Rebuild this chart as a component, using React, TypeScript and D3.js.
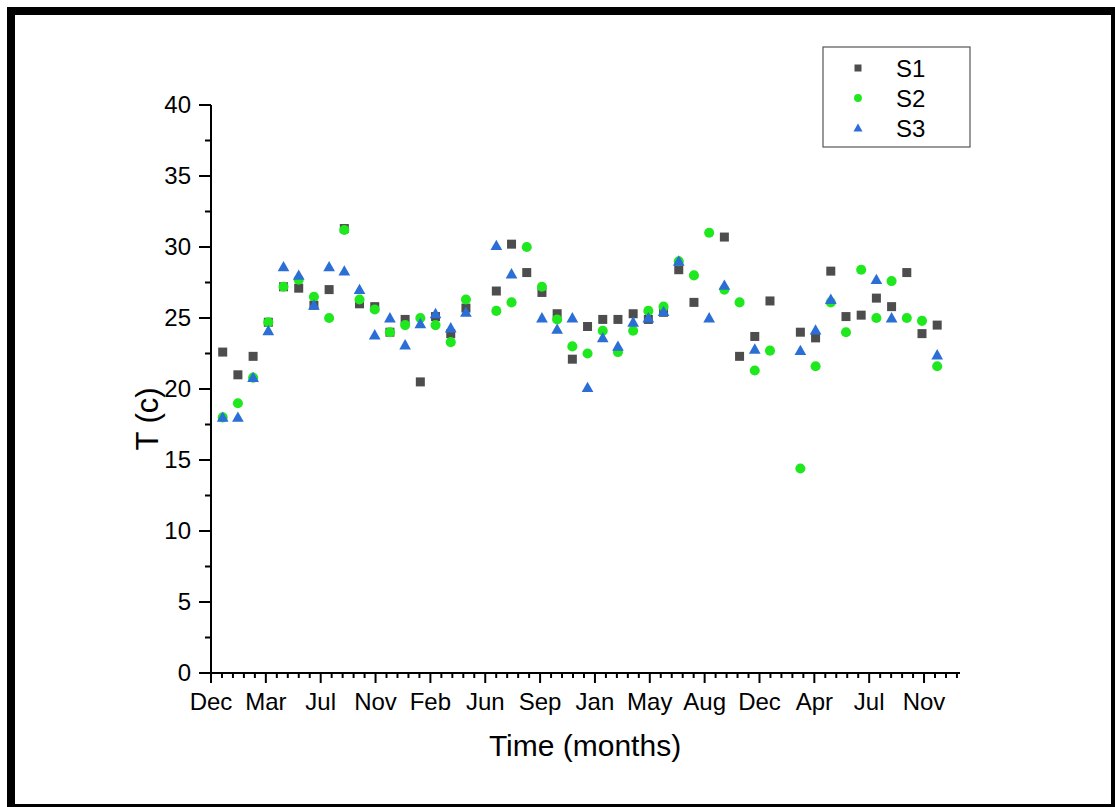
import React from "react";
import * as d3 from "d3";

// Month index 0 = Dec (first year) ... 47 = Nov (fourth year after)
const s1: (number | null)[] = [
  22.6, 21.0, 22.3, 24.7, 27.2, 27.1, 25.9, 27.0, 31.3, 26.0, 25.8, 24.0,
  24.9, 20.5, 25.1, 23.9, 25.7, null, 26.9, 30.2, 28.2, 26.8, 25.3, 22.1,
  24.4, 24.9, 24.9, 25.3, 24.9, 25.4, 28.4, 26.1, null, 30.7, 22.3, 23.7,
  26.2, null, 24.0, 23.6, 28.3, 25.1, 25.2, 26.4, 25.8, 28.2, 23.9, 24.5,
];
const s2: (number | null)[] = [
  18.0, 19.0, 20.8, 24.7, 27.2, 27.7, 26.5, 25.0, 31.2, 26.3, 25.6, 24.0,
  24.5, 25.0, 24.5, 23.3, 26.3, null, 25.5, 26.1, 30.0, 27.2, 24.9, 23.0,
  22.5, 24.1, 22.6, 24.1, 25.5, 25.8, 29.0, 28.0, 31.0, 27.0, 26.1, 21.3,
  22.7, null, 14.4, 21.6, 26.1, 24.0, 28.4, 25.0, 27.6, 25.0, 24.8, 21.6,
];
const s3: (number | null)[] = [
  18.0, 18.0, 20.8, 24.1, 28.6, 28.0, 25.9, 28.6, 28.3, 27.0, 23.8, 25.0,
  23.1, 24.6, 25.3, 24.3, 25.4, null, 30.1, 28.1, null, 25.0, 24.2, 25.0,
  20.1, 23.6, 23.0, 24.7, 25.0, 25.45, 29.0, null, 25.0, 27.3, null, 22.8,
  null, null, 22.7, 24.15, 26.3, null, null, 27.7, 25.0, null, null, 22.4,
];

const xTickLabels = ["Dec", "Mar", "Jul", "Nov", "Feb", "Jun", "Sep", "Jan", "May", "Aug", "Dec", "Apr", "Jul", "Nov"];
const xTickStart = -0.77; // month index of first major tick
const xTickStep = 3.608; // months between major ticks (~110 days)
const xDomain = [-0.77, 48.5];
const yDomain = [0, 40];
const yTicks = [0, 5, 10, 15, 20, 25, 30, 35, 40];

const seriesNames = ["S1", "S2", "S3"];
const colors = { S1: "#4d4d4d", S2: "#1fe81f", S3: "#2b6ed6" };

const FONT = "'Liberation Sans', Arial, sans-serif";

function Marker({ kind, x, y, s }: { kind: string; x: number; y: number; s: number }) {
  if (kind === "S1") {
    return <rect x={x - s / 2} y={y - s / 2} width={s} height={s} fill={colors.S1} />;
  }
  if (kind === "S2") {
    return <circle cx={x} cy={y} r={s * 0.56} fill={colors.S2} />;
  }
  const w = s * 1.3;
  const h = s * 1.1;
  return (
    <path
      d={`M${x},${y - h * 0.6} L${x + w / 2},${y + h * 0.45} L${x - w / 2},${y + h * 0.45} Z`}
      fill={colors.S3}
    />
  );
}

export default function App() {
  const W = 1115;
  const H = 807;
  const left = 211;
  const right = 960;
  const top = 105;
  const bottom = 673;

  const x = d3.scaleLinear().domain(xDomain).range([left, right]);
  const y = d3.scaleLinear().domain(yDomain).range([bottom, top]);

  const majorX = xTickLabels.map((l, k) => ({ label: l, v: xTickStart + k * xTickStep }));
  const minorX: number[] = [];
  for (let k = 0; k < xTickLabels.length; k++) {
    for (let m = 1; m < 5; m++) {
      const v = xTickStart + (k + m / 5) * xTickStep;
      if (v <= xDomain[1]) minorX.push(v);
    }
  }
  const minorY = yTicks.slice(0, -1).map((t) => t + 2.5);

  const data = [
    { name: "S1", vals: s1 },
    { name: "S2", vals: s2 },
    { name: "S3", vals: s3 },
  ];

  return (
    <svg
      width={W}
      height={H}
      style={{ position: "absolute", left: 0, top: 0, background: "#fff" }}
      fontFamily={FONT}
    >
      <rect x={0} y={0} width={W} height={H} fill="#fff" />
      <rect x={11} y={11} width={1104} height={797} fill="none" stroke="#000" strokeWidth={8} />

      {/* Y axis */}
      <line x1={left} x2={left} y1={top} y2={bottom + 1} stroke="#000" strokeWidth={2} />
      {yTicks.map((t) => (
        <g key={"yt" + t}>
          <line x1={left - 12} x2={left} y1={y(t)} y2={y(t)} stroke="#000" strokeWidth={2} />
          <text x={left - 20} y={y(t)} dy="0.35em" textAnchor="end" fontSize={24} fill="#000">
            {t}
          </text>
        </g>
      ))}
      {minorY.map((t) => (
        <line key={"ym" + t} x1={left - 6} x2={left} y1={y(t)} y2={y(t)} stroke="#000" strokeWidth={2} />
      ))}

      {/* X axis */}
      <line x1={left - 1} x2={right} y1={bottom} y2={bottom} stroke="#000" strokeWidth={2} />
      {majorX.map((t, i) => (
        <g key={"xt" + i}>
          <line x1={x(t.v)} x2={x(t.v)} y1={bottom} y2={bottom + 10} stroke="#000" strokeWidth={2} />
          <text x={x(t.v)} y={bottom + 37} textAnchor="middle" fontSize={24} fill="#000">
            {t.label}
          </text>
        </g>
      ))}
      {minorX.map((v, i) => (
        <line key={"xm" + i} x1={x(v)} x2={x(v)} y1={bottom} y2={bottom + 5} stroke="#000" strokeWidth={2} />
      ))}

      {/* Axis titles */}
      <text x={585} y={756} textAnchor="middle" fontSize={30} fill="#000">
        Time (months)
      </text>
      <text
        transform={`translate(158, ${419}) rotate(-90)`}
        textAnchor="middle"
        fontSize={31}
        fill="#000"
      >
        T (c)
      </text>

      {/* Points */}
      {data.map((s) => (
        <g key={s.name}>
          {s.vals.map((v, i) =>
            v === null ? null : <Marker key={i} kind={s.name} x={x(i)} y={y(v)} s={9} />
          )}
        </g>
      ))}

      {/* Legend */}
      <rect x={823} y={47} width={147} height={100} fill="#fff" stroke="#555" strokeWidth={1.2} />
      {seriesNames.map((n, i) => (
        <g key={"lg" + n}>
          <Marker kind={n} x={858} y={68 + i * 30} s={7} />
          <text x={896} y={68 + i * 30} dy="0.36em" fontSize={24} fill="#000">
            {n}
          </text>
        </g>
      ))}
    </svg>
  );
}
